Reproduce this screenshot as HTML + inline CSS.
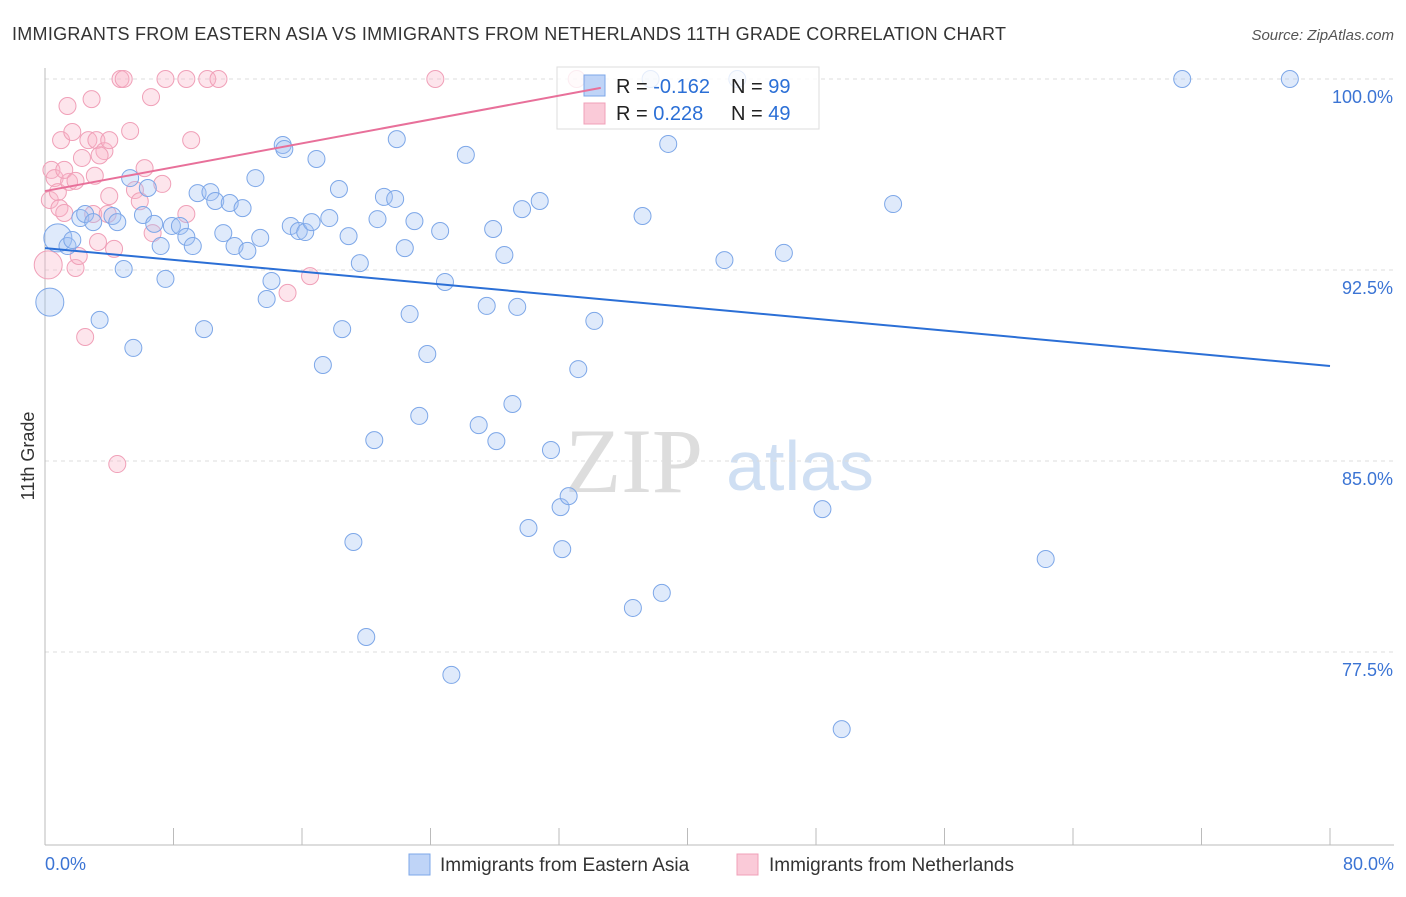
<!DOCTYPE html>
<html><head><meta charset="utf-8"><style>
body{margin:0;background:#fff;font-family:"Liberation Sans",sans-serif;}
svg text{font-family:"Liberation Sans",sans-serif;}
</style></head><body>
<svg id="chart" width="1406" height="892">
<text x="12" y="40" font-size="18" fill="#333" textLength="994" lengthAdjust="spacing">IMMIGRANTS FROM EASTERN ASIA VS IMMIGRANTS FROM NETHERLANDS 11TH GRADE CORRELATION CHART</text>
<text x="1394" y="40" font-size="15" fill="#555" text-anchor="end" font-style="italic">Source: ZipAtlas.com</text>
<text x="34" y="456" font-size="18" fill="#333" text-anchor="middle" transform="rotate(-90 34 456)">11th Grade</text>
<g><text x="634" y="492" font-size="92" fill="#ddd" text-anchor="middle" style="font-family:'Liberation Serif',serif">ZIP</text><text x="800" y="490" font-size="70" fill="#cfdff3" text-anchor="middle">atlas</text></g>
<g id="grid"></g><g id="axes"></g><g id="pts"></g>
<g>
<rect x="557" y="67" width="262" height="62" fill="rgba(255,255,255,0.8)" stroke="#ddd"/>
<rect x="584" y="75" width="21" height="21" fill="rgba(164,194,244,0.7)" stroke="#7da7e8"/>
<rect x="584" y="103" width="21" height="21" fill="rgba(248,180,200,0.7)" stroke="#f0a0b8"/>
<text x="616" y="93" font-size="20" fill="#222">R = <tspan fill="#2b6fd6">-0.162</tspan></text>
<text x="731" y="93" font-size="20" fill="#222">N = <tspan fill="#2b6fd6">99</tspan></text>
<text x="616" y="120" font-size="20" fill="#222">R = <tspan fill="#2b6fd6"> 0.228</tspan></text>
<text x="731" y="120" font-size="20" fill="#222">N = <tspan fill="#2b6fd6">49</tspan></text>
</g>
<g id="lines"></g>
<g>
<rect x="409" y="854" width="21" height="21" fill="rgba(164,194,244,0.7)" stroke="#7da7e8"/>
<text x="440" y="871" font-size="19" fill="#333">Immigrants from Eastern Asia</text>
<rect x="737" y="854" width="21" height="21" fill="rgba(248,180,200,0.7)" stroke="#f0a0b8"/>
<text x="769" y="871" font-size="19" fill="#333">Immigrants from Netherlands</text>
</g>
</svg>
<script>
const xTicks=[0,8,16,24,32,40,48,56,64,72,80];
const yTicks=[77.5,85,92.5,100];
const blueX=[0.3,0.8,1.4,1.7,2.2,2.5,3.0,3.4,4.2,4.5,4.9,5.3,5.5,6.1,6.4,6.8,7.2,7.5,7.9,8.4,8.8,9.2,9.5,9.9,10.3,10.6,11.1,11.5,11.8,12.3,12.6,13.1,13.4,13.8,14.1,14.8,14.9,15.3,15.8,16.2,16.6,16.9,17.3,17.7,18.3,18.5,18.9,19.2,19.6,20.0,20.5,20.7,21.1,21.8,21.9,22.4,22.7,23.0,23.3,23.8,24.6,24.9,25.3,26.2,27.0,27.5,27.9,28.1,28.6,29.1,29.4,29.7,30.1,30.8,31.5,32.1,32.2,32.6,33.2,34.2,36.6,37.2,37.7,38.4,38.8,42.3,43.1,46.0,48.4,49.6,52.8,62.3,70.8,77.5];
const blueY=[91.24,93.76,93.44,93.68,94.54,94.70,94.38,90.54,94.62,94.38,92.54,96.11,89.44,94.66,95.72,94.31,93.44,92.15,94.23,94.23,93.80,93.44,95.52,90.18,95.56,95.21,93.95,95.13,93.44,94.93,93.25,96.11,93.76,91.36,92.07,97.41,97.25,94.23,94.03,93.99,94.38,96.86,88.77,94.54,95.68,90.18,93.83,81.82,92.77,78.09,85.82,94.50,95.37,95.29,97.64,93.36,90.77,94.42,86.77,89.20,94.03,92.03,76.60,97.02,86.41,91.09,94.11,85.78,93.09,87.24,91.05,94.89,82.37,95.21,85.43,83.19,81.54,83.62,88.61,90.50,79.23,94.62,100,79.82,97.45,92.89,100,93.17,83.11,74.47,95.09,81.15,100,100];
const pinkX=[0.2,0.3,0.4,0.6,0.8,0.9,1.0,1.2,1.4,1.5,1.7,1.9,2.1,2.3,2.5,2.7,2.9,3.0,3.2,3.3,3.7,4.0,3.9,4.3,4.5,4.7,4.9,5.3,5.6,6.2,6.6,6.7,7.3,7.5,8.8,8.8,9.1,10.1,10.8,15.1,16.5,24.3,33.1,1.2,1.9,3.4,4.0,5.9,3.1];
const pinkY=[92.7,95.25,96.43,96.11,95.56,94.93,97.6,94.74,98.94,95.96,97.92,92.58,93.05,96.9,89.87,97.6,99.21,94.7,97.6,93.6,97.17,97.6,94.7,93.33,84.88,100,100,97.96,95.64,96.5,99.29,93.95,95.88,100,94.7,100,97.6,100,100,91.6,92.26,100,100,96.43,96.0,97.0,95.4,95.2,96.2];
const blueTrend=[93.36,88.73]; // at x=0 and x=80
const pinkTrend=[95.6,99.65]; // at x=0 and x=34.6
const pinkTrendEnd=34.6;
const NS='http://www.w3.org/2000/svg';
const X=v=>45+v/80*1285, Y=v=>79+(100-v)/7.5*191;
function mk(tag,attrs,parent){const e=document.createElementNS(NS,tag);for(const k in attrs)e.setAttribute(k,attrs[k]);document.getElementById(parent).appendChild(e);return e;}
yTicks.forEach(t=>{
 const g=mk('line',{x1:45,x2:1394,y1:Y(t),y2:Y(t),stroke:'#ddd','stroke-dasharray':'4 4'},'grid');
 
 
 const l=mk('text',{x:1393,y:Y(t)+24,'font-size':18,fill:'#3b74d4','text-anchor':'end'},'axes');
 l.textContent=t.toFixed(1)+'%';
 
 
});
mk('line',{x1:45,x2:45,y1:68,y2:845,stroke:'#bbb'},'axes');
mk('line',{x1:45,x2:1394,y1:845,y2:845,stroke:'#bbb'},'axes');
xTicks.forEach(t=>{
 const k=mk('line',{x1:X(t),x2:X(t),y1:828,y2:845,stroke:'#bbb'},'axes');
 
 
});
[[0,'start'],[80,'end']].forEach(([t,a])=>{
 const l=mk('text',{x:t===0?45:1394,y:870,'font-size':18,fill:'#3b74d4','text-anchor':a},'axes');
 l.textContent=t.toFixed(1)+'%';
 
 
});
function series(xs,ys,fill,stroke,name){xs.forEach((x,i)=>{
 const r=(x<1&&(name==='blue-point'?i<2:i<1))?14:8.5;
 const c=mk('circle',{cx:X(x),cy:Y(ys[i]),r:r,fill:fill,stroke:stroke,'stroke-width':1},'pts');
 
 
});}
series(pinkX,pinkY,'rgba(248,180,200,0.35)','#f0a0b8','pink-point');
series(blueX,blueY,'rgba(164,194,244,0.35)','#7da7e8','blue-point');
const bl=mk('line',{x1:X(0),y1:Y(blueTrend[0]),x2:X(80),y2:Y(blueTrend[1]),stroke:'#2b6fd6','stroke-width':2},'lines');


const pl=mk('line',{x1:X(0),y1:Y(pinkTrend[0]),x2:X(pinkTrendEnd),y2:Y(pinkTrend[1]),stroke:'#e8709a','stroke-width':2},'lines');


</script>
</body></html>
